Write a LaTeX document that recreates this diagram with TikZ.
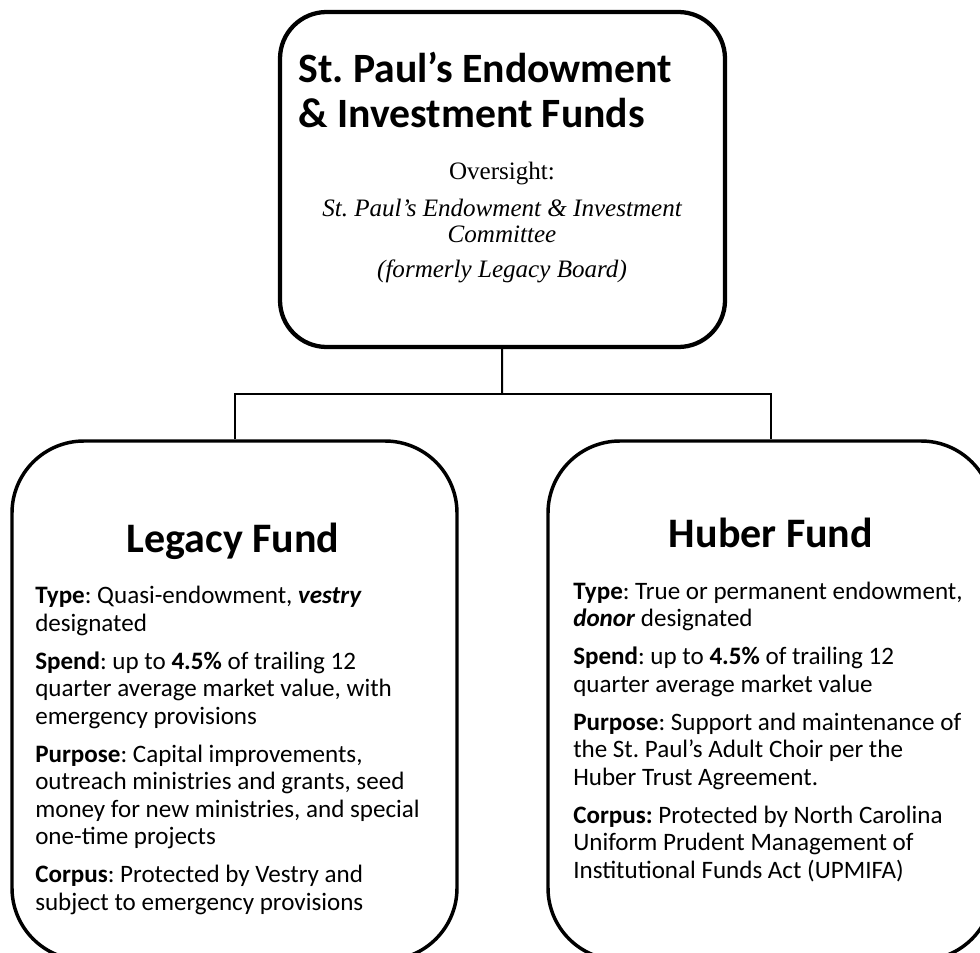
\documentclass[tikz,border=0pt]{standalone}
\usepackage{fontspec}
\setmainfont{Carlito}
\newfontfamily\oversightfont{Liberation Serif}
\frenchspacing

\tikzset{
  fundbox/.style={draw, line width=2.6pt, rounded corners=54pt,
    minimum width=333.75pt, minimum height=389.25pt},
  topbox/.style={draw, line width=3.2pt, rounded corners=35pt,
    minimum width=333.75pt, minimum height=251.25pt},
  fundhead/.style={anchor=base, inner sep=0pt,
    font=\fontsize{31.5}{35}\selectfont\bfseries},
  fundtext/.style={anchor=base west, align=left, inner sep=0pt,
    font=\fontsize{18.8}{20.5}\selectfont},
  serifline/.style={anchor=base, align=center, inner sep=0pt,
    font=\oversightfont\fontsize{18.8}{18.75}\selectfont},
  link/.style={line width=1.5pt}
}

\begin{document}
\begin{tikzpicture}[x=0.75pt, y=-0.75pt]
\useasboundingbox (0,0) rectangle (980,952);
\clip (0,0) rectangle (980,952);

% boxes
\node[topbox] (funds) at (502.5,179.5) {};
\node[fundbox] (legacy) at (234.5,700.5) {};
\node[fundbox] (huber) at (770.5,700.5) {};

% org chart lines
\coordinate (bus) at (502,394);
\draw[link] (funds) -- (bus);
\draw[link] (legacy.north) |- (bus) -| (huber.north);

% top box text (multi-line nodes sit on their last baseline)
\node[anchor=base west, align=left, inner sep=0pt,
  font=\fontsize{31.3}{33.75}\selectfont\bfseries] (fundstitle) at (298,128)
  {St. Paul’s Endowment\\ \& Investment Funds};
\node[serifline] (oversight) at (502,180) {Oversight:};
\node[serifline, font=\oversightfont\itshape\fontsize{18.8}{18.75}\selectfont] (committee) at (502,242)
  {St. Paul’s Endowment \& Investment\\ Committee};
\node[serifline, font=\oversightfont\itshape\fontsize{18.8}{18.75}\selectfont] (formerly) at (502,277)
  {(formerly Legacy Board)};

% Legacy Fund
\node[fundhead] (legacyhead) at (233,552) {Legacy Fund};
\node[fundtext] (legacytext) at (35,910) {%
  \textbf{Type}: Quasi-endowment, \textbf{\textit{vestry}}\\ designated\\[8.25pt]
  \textbf{Spend}: up to \textbf{4.5\%} of trailing 12\\ quarter average market value, with\\ emergency provisions\\[8.25pt]
  \textbf{Purpose}: Capital improvements,\\ outreach ministries and grants, seed\\ money for new ministries, and special\\ one-time projects\\[8.25pt]
  \textbf{Corpus}: Protected by Vestry and\\ subject to emergency provisions};

% Huber Fund
\node[fundhead] (huberhead) at (771,547) {Huber Fund};
\node[fundtext] (hubertext) at (573,878) {%
  \textbf{Type}: True or permanent endowment,\\ \textbf{\textit{donor}} designated\\[8.25pt]
  \textbf{Spend}: up to \textbf{4.5\%} of trailing 12\\ quarter average market value\\[8.25pt]
  \textbf{Purpose}: Support and maintenance of\\ the St. Paul’s Adult Choir per the\\ Huber Trust Agreement.\\[8.25pt]
  \textbf{Corpus:} Protected by North Carolina\\ Uniform Prudent Management of\\ Institutional Funds Act (UPMIFA)};
\end{tikzpicture}
\end{document}
